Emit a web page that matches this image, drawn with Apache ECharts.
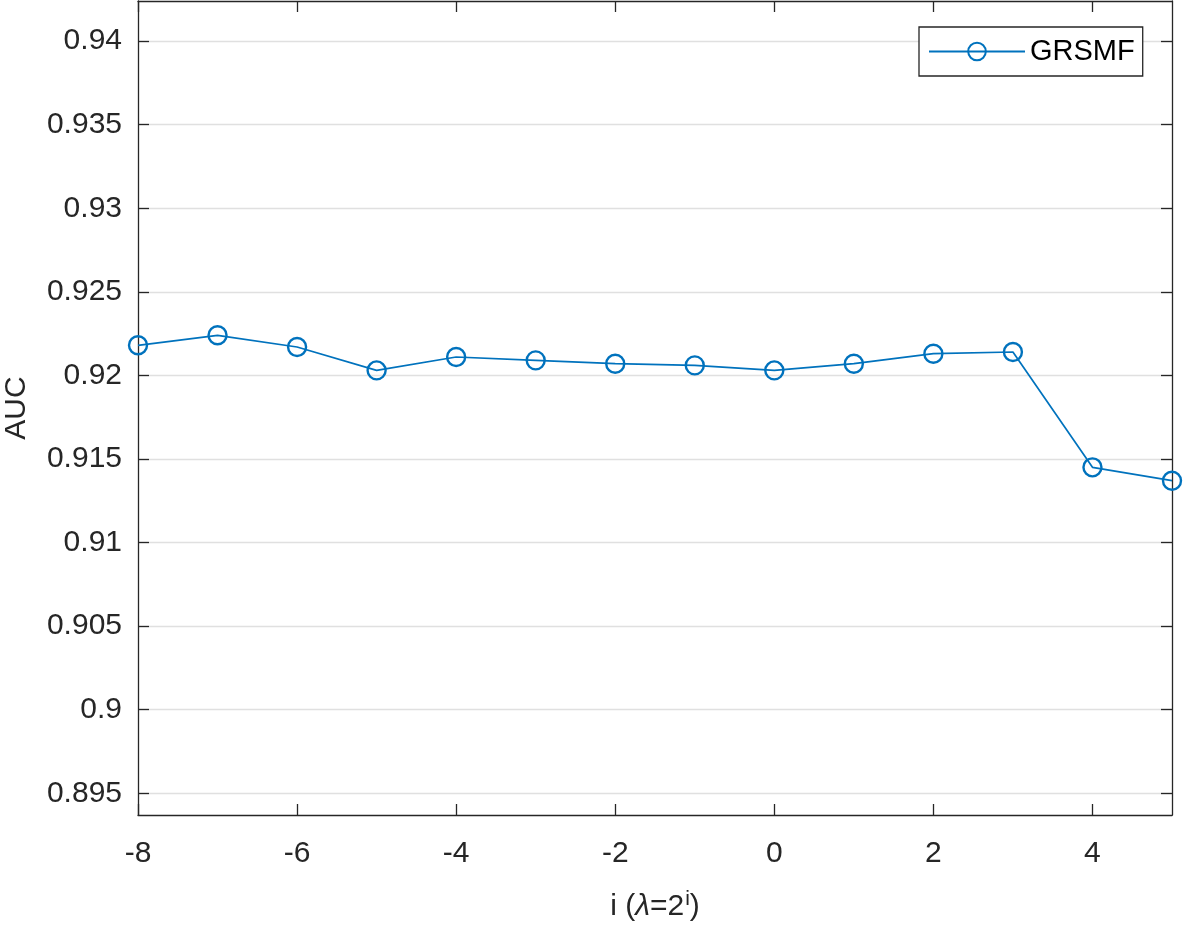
<!DOCTYPE html>
<html>
<head>
<meta charset="utf-8">
<script src="https://cdn.jsdelivr.net/npm/echarts@6/dist/echarts.min.js"></script>
<style>html,body{margin:0;padding:0;background:#fff;}#c{width:1183px;height:925px;}</style>
</head>
<body>
<div id="c"></div>
<script>
var xValues = [-8, -7, -6, -5, -4, -3, -2, -1, 0, 1, 2, 3, 4, 5];
var aucValues = [0.9218, 0.9224, 0.9217, 0.9203, 0.9211, 0.9209, 0.9207, 0.9206, 0.9203, 0.9207, 0.9213, 0.9214, 0.9145, 0.9137];
var xTicks = [-8, -6, -4, -2, 0, 2, 4];
var yTicks = [0.895, 0.9, 0.905, 0.91, 0.915, 0.92, 0.925, 0.93, 0.935, 0.94];
var seriesName = 'GRSMF';

var FONT = '"Liberation Sans", Arial, Helvetica, sans-serif';
var TXT = '#262626';
var BLUE = '#0072BD';
var FS = 30;
var fmtY = function (v) { return String(Number(Number(v).toFixed(3))); };

var chart = echarts.init(document.getElementById('c'), null, {renderer: 'canvas'});
var pts = xValues.map(function (x, i) { return [x, aucValues[i]]; });

var axisCommon = {
  axisLine: {show: true, onZero: false, lineStyle: {color: TXT, width: 1.3}},
  axisTick: {show: true, inside: true, length: 11, lineStyle: {color: TXT, width: 1.3}}
};

chart.setOption({
  animation: false,
  backgroundColor: '#fff',
  textStyle: {fontFamily: FONT, color: TXT},
  grid: {left: 138, right: 11, top: 1, bottom: 110, outerBoundsMode: 'none', containLabel: false},
  legend: {
    show: true,
    left: 919, top: 27,
    orient: 'horizontal',
    data: [seriesName],
    itemWidth: 96, itemHeight: 22,
    itemGap: 6,
    padding: [10, 8, 10, 9],
    borderColor: TXT, borderWidth: 1.3,
    backgroundColor: '#fff',
    textStyle: {fontFamily: FONT, fontSize: 29, color: '#000'}
  },
  xAxis: [{
    type: 'value', position: 'bottom', min: -8, max: 5,
    axisLine: axisCommon.axisLine,
    axisTick: Object.assign({customValues: xTicks}, axisCommon.axisTick),
    axisLabel: {customValues: xTicks, fontFamily: FONT, fontSize: FS, color: TXT, margin: 24},
    splitLine: {show: false},
    name: '{t|i (}{l|λ}{t|=2}{s|i}{t|)}',
    nameLocation: 'middle', nameGap: 74,
    nameTextStyle: {
      rich: {
        t: {fontFamily: FONT, fontSize: FS, color: TXT},
        l: {fontFamily: FONT, fontSize: FS, color: TXT, fontStyle: 'italic'},
        s: {fontFamily: FONT, fontSize: 21, color: TXT, verticalAlign: 'top', padding: [0, 0, 15, 1]}
      }
    }
  }, {
    type: 'value', position: 'top', min: -8, max: 5,
    axisLine: axisCommon.axisLine,
    axisTick: Object.assign({customValues: xTicks}, axisCommon.axisTick),
    axisLabel: {show: false},
    splitLine: {show: false}
  }],
  yAxis: [{
    type: 'value', position: 'left', min: 0.8937, max: 0.9424,
    axisLine: axisCommon.axisLine,
    axisTick: Object.assign({customValues: yTicks}, axisCommon.axisTick),
    axisLabel: {customValues: yTicks, formatter: fmtY, fontFamily: FONT, fontSize: FS, color: TXT, margin: 16},
    splitLine: {show: true, lineStyle: {color: '#e0e0e0', width: 1.3}},
    name: 'AUC', nameLocation: 'middle', nameGap: 106,
    nameTextStyle: {fontFamily: FONT, fontSize: FS, color: TXT}
  }, {
    type: 'value', position: 'right', min: 0.8937, max: 0.9424,
    axisLine: axisCommon.axisLine,
    axisTick: Object.assign({customValues: yTicks}, axisCommon.axisTick),
    axisLabel: {show: false},
    splitLine: {show: false}
  }],
  series: [{
    name: seriesName,
    type: 'line',
    xAxisIndex: 0, yAxisIndex: 0,
    data: pts,
    symbol: 'circle',
    symbolSize: 18,
    showAllSymbol: true,
    clip: false,
    lineStyle: {color: BLUE, width: 1.7},
    itemStyle: {color: 'rgba(0,0,0,0)', borderColor: BLUE, borderWidth: 2.4},
    emphasis: {disabled: true}
  }]
});
</script>
</body>
</html>
